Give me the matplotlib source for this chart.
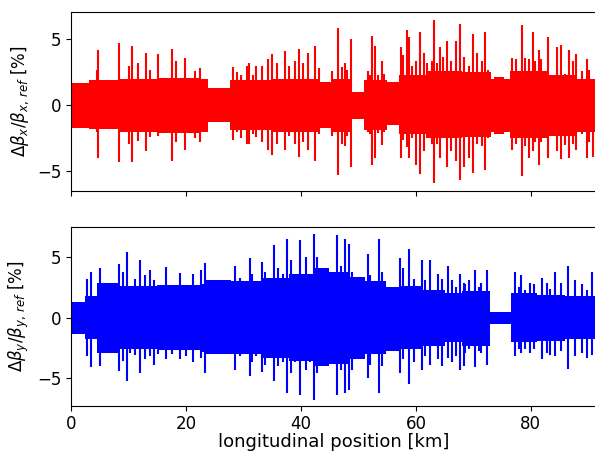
import matplotlib
matplotlib.use("Agg")
import matplotlib.pyplot as plt
import numpy as np

plt.rcParams['font.size'] = 12

# ---- horizontal plane: band envelope (piecewise, start of each segment in km) ----
x_band_start = [0, 3.1, 8.3, 15, 22.4, 23.9, 27.7, 35, 43.0, 45.6, 48.9, 51.0,
                54.9, 57.0, 62, 68, 73.0, 73.6, 75.3, 76.3, 83, 88, 92]
x_band_up = [1.7, 1.9, 2.0, 2.1, 2.0, 1.3, 1.9, 2.0, 1.75, 2.0, 1.0, 1.9,
             1.8, 2.3, 2.6, 2.5, 2.0, 2.15, 2.0, 2.6, 2.3, 2.0, 2.0]
x_band_dn = [-1.7, -1.8, -2.0, -2.1, -2.0, -1.3, -1.9, -2.0, -1.75, -2.0, -1.0, -1.9,
             -1.5, -2.2, -2.5, -2.4, -2.0, -2.15, -2.0, -2.5, -2.3, -2.0, -2.0]

# ---- horizontal plane: spikes (km, max %, min %) ----
x_spk_pos = [4.5, 4.7, 8.4, 10.1, 10.7, 11.7, 13.0, 13.7, 15.1, 17.6, 18.3, 19.8,
             21.5, 22.5, 23.5, 28.2, 28.8, 29.6, 30.6, 31.0, 31.6, 32.2, 33.2, 34.3,
             35.0, 35.9, 37.3, 37.9, 38.9, 39.7, 40.4, 41.2, 42.4, 43.1, 45.4, 46.4,
             47.1, 47.6, 48.0, 48.7, 51.6, 52.0, 52.4, 52.9, 53.4, 54.1, 54.5, 57.4,
             57.8, 58.4, 58.8, 59.3, 60.1, 60.7, 61.4, 62.0, 62.8, 63.1, 63.6, 64.2,
             64.8, 65.4, 66.1, 66.9, 67.6, 68.3, 69.2, 70.0, 70.6, 71.5, 72.1, 72.6,
             76.8, 77.4, 78.4, 79.0, 79.6, 80.4, 80.8, 81.4, 81.8, 83.0, 83.7, 84.5,
             85.2, 85.9, 86.6, 87.4, 87.9, 88.9, 89.7, 90.2, 90.8]
x_spk_up = [2.7, 4.2, 4.7, 3.0, 4.5, 3.2, 4.0, 2.7, 3.9, 4.3, 3.4, 3.6,
            2.6, 2.8, 2.0, 2.9, 2.5, 2.3, 3.0, 3.2, 2.3, 3.0, 3.0, 3.5,
            3.9, 3.2, 4.1, 3.0, 3.4, 4.3, 3.2, 4.0, 4.5, 2.8, 2.6, 5.9,
            2.9, 3.2, 2.7, 5.0, 2.6, 2.3, 5.3, 4.5, 2.3, 3.4, 2.4, 4.4,
            3.8, 5.7, 5.2, 3.0, 3.4, 5.6, 4.0, 3.2, 3.4, 6.5, 3.2, 4.4,
            3.7, 4.9, 3.4, 4.9, 6.2, 3.7, 3.0, 5.4, 4.0, 3.4, 5.6, 2.7,
            3.6, 3.5, 6.1, 3.6, 3.5, 5.6, 3.4, 4.2, 3.5, 5.2, 2.3, 4.4,
            4.6, 2.4, 4.2, 3.4, 3.9, 2.6, 3.5, 2.7, 2.0]
x_spk_dn = [-2.0, -4.0, -4.3, -2.9, -4.3, -2.7, -3.5, -2.4, -2.3, -4.2, -2.8, -3.4,
            -2.5, -2.8, -1.9, -2.65, -2.0, -2.5, -2.9, -2.9, -2.2, -2.4, -2.8, -3.4,
            -3.8, -2.9, -3.4, -2.3, -2.9, -3.9, -2.8, -3.4, -4.2, -2.2, -2.3, -5.3,
            -2.9, -3.1, -2.3, -4.7, -2.0, -2.2, -4.5, -4.0, -2.1, -3.0, -2.0, -4.0,
            -2.6, -3.2, -4.0, -2.5, -4.5, -5.2, -3.5, -2.5, -2.9, -5.9, -2.9, -4.0,
            -2.5, -4.7, -3.5, -4.2, -5.7, -4.7, -4.0, -5.1, -2.9, -3.1, -4.9, -2.5,
            -3.4, -2.9, -5.4, -3.1, -4.0, -3.5, -2.8, -4.5, -2.8, -4.0, -2.2, -3.5,
            -4.1, -3.0, -4.0, -2.9, -3.4, -2.2, -4.0, -2.8, -3.9]

# ---- vertical plane: band envelope ----
y_band_start = [0, 2.4, 4.6, 8.3, 15, 22.4, 23.4, 27.8, 33, 38, 42.5, 44.8,
                48.6, 51.2, 54.8, 57.1, 61, 65, 68, 72.9, 76.6, 81, 86, 92]
y_band_up = [1.3, 1.8, 2.9, 2.6, 2.7, 2.8, 3.1, 3.0, 3.3, 3.6, 4.1, 3.8,
             3.4, 3.0, 2.5, 2.6, 2.3, 2.0, 2.2, 0.45, 2.0, 1.9, 1.8, 1.8]
y_band_dn = [-1.35, -1.8, -2.9, -2.6, -2.7, -2.8, -3.0, -3.0, -3.3, -3.6, -4.0, -3.8,
             -3.4, -3.0, -2.75, -2.6, -2.3, -2.0, -2.3, -0.55, -2.0, -1.9, -1.8, -1.8]

# ---- vertical plane: spikes ----
y_spk_pos = [2.7, 3.4, 5.0, 8.3, 9.1, 9.8, 10.3, 11.1, 12.0, 12.9, 13.7, 14.4,
             15.2, 16.5, 17.5, 18.9, 20.0, 21.2, 22.6, 23.4, 28.5, 29.4, 31.1, 31.5,
             32.2, 33.2, 33.7, 34.3, 35.3, 36.0, 36.9, 37.6, 38.3, 39.0, 39.8, 40.8,
             41.6, 42.2, 42.8, 46.3, 46.9, 47.7, 48.3, 48.9, 51.6, 52.0, 53.5, 54.1,
             54.6, 57.3, 57.8, 58.8, 59.6, 61.0, 61.6, 62.5, 63.9, 64.5, 65.5, 66.2,
             67.0, 67.7, 68.3, 68.6, 69.3, 70.2, 70.9, 71.4, 72.3, 77.3, 77.9, 78.3,
             79.0, 79.8, 80.5, 81.9, 82.8, 83.4, 84.2, 85.3, 86.5, 87.7, 88.9, 89.7,
             90.6]
y_spk_up = [3.2, 3.8, 4.1, 4.4, 3.8, 5.4, 2.4, 3.2, 4.75, 3.5, 3.9, 3.1,
            2.7, 4.2, 2.4, 3.7, 2.7, 3.6, 3.9, 4.5, 4.3, 3.3, 4.9, 3.6,
            2.6, 4.6, 3.8, 2.9, 6.0, 4.1, 3.6, 6.5, 4.75, 3.4, 6.4, 5.0,
            3.4, 6.9, 5.0, 6.8, 4.3, 6.5, 6.1, 3.8, 5.3, 3.5, 6.5, 3.8,
            2.8, 4.9, 4.1, 5.7, 3.2, 4.75, 3.1, 4.75, 3.6, 3.2, 4.3, 3.1,
            2.5, 3.6, 2.9, 2.8, 3.1, 3.9, 2.5, 2.9, 3.9, 3.8, 2.5, 3.5,
            2.25, 2.9, 2.8, 3.3, 2.9, 2.4, 3.8, 2.9, 4.3, 3.1, 2.8, 2.25,
            3.8]
y_spk_dn = [-3.2, -4.1, -4.0, -4.4, -3.6, -5.25, -2.9, -3.1, -4.6, -3.4, -3.2, -3.9,
            -3.0, -3.4, -3.0, -3.4, -3.2, -3.7, -3.3, -4.6, -4.3, -3.2, -4.8, -3.7,
            -3.2, -4.5, -3.9, -3.3, -5.25, -4.0, -3.7, -6.2, -4.6, -3.7, -6.4, -4.3,
            -3.7, -6.8, -4.6, -6.4, -4.3, -6.2, -6.0, -4.3, -5.0, -3.9, -6.2, -4.0,
            -3.0, -4.6, -3.4, -5.5, -3.7, -4.3, -3.2, -3.9, -3.4, -4.0, -3.3, -3.7,
            -3.2, -4.3, -4.0, -2.9, -2.6, -4.1, -2.75, -2.9, -3.9, -3.2, -2.6, -2.9,
            -2.6, -2.9, -2.6, -3.4, -2.9, -3.1, -3.2, -2.75, -4.2, -3.2, -2.9, -3.3,
            -3.1]

fig = plt.figure(figsize=(5.95, 4.53), dpi=100)
ax1 = fig.add_axes([0.1193, 0.579, 0.884, 0.3938])
ax2 = fig.add_axes([0.1193, 0.1044, 0.884, 0.3952], sharex=ax1)

panels = [
    (ax1, 'red', x_band_start, x_band_up, x_band_dn, x_spk_pos, x_spk_up, x_spk_dn,
     r'$\Delta\beta_x/\beta_{x,\,ref}$ [%]', (-6.48, 7.06)),
    (ax2, 'blue', y_band_start, y_band_up, y_band_dn, y_spk_pos, y_spk_up, y_spk_dn,
     r'$\Delta\beta_y/\beta_{y,\,ref}$ [%]', (-7.27, 7.52)),
]

for ax, col, bs, bu, bd, sp, su, sd, lab, ylim in panels:
    up = list(bu) + [bu[-1]] if len(bu) < len(bs) else bu
    dn = list(bd) + [bd[-1]] if len(bd) < len(bs) else bd
    ax.fill_between(bs, dn, up, step='post', color=col, lw=0)
    ax.vlines(sp, sd, su, color=col, lw=1.5)
    ax.set_ylim(*ylim)
    ax.set_yticks([-5, 0, 5])
    ax.set_ylabel(lab, fontsize=12, labelpad=4)

ax1.set_xlim(0, 91.5)
ax1.set_xticks([0, 20, 40, 60, 80])
ax1.tick_params(labelbottom=False)
ax2.set_xlabel('longitudinal position [km]', fontsize=13, labelpad=0)

fig.savefig('out.png', dpi=100)
